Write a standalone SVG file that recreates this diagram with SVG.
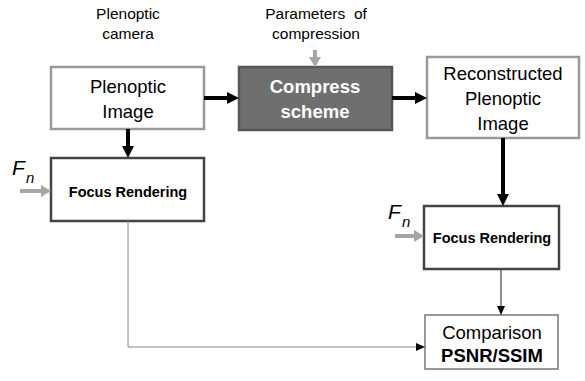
<svg xmlns="http://www.w3.org/2000/svg" width="585" height="381" viewBox="0 0 585 381">
<defs>
<style>
text{font-family:"Liberation Sans",Arial,sans-serif;text-anchor:middle;fill:#000}
.lbl{font-size:15.5px}
.big{font-size:18.5px}
.bold{font-weight:bold}
.fr{font-size:14.5px;font-weight:bold}
.fn{font-size:21px;font-style:italic;text-anchor:start}
.sub{font-size:15px;font-style:italic;text-anchor:start}
.thick{stroke:#000;stroke-width:4;fill:none}
.grey{stroke:#a6a6a6;stroke-width:4;fill:none}
.thin{stroke:#888;stroke-width:1;fill:none}
</style>
</defs>
<rect width="585" height="381" fill="#fff"/>
<text class="lbl" x="128" y="19">Plenoptic</text>
<text class="lbl" x="128" y="39">camera</text>
<text class="lbl" x="316" y="19" xml:space="preserve">Parameters  of</text>
<text class="lbl" x="316" y="39">compression</text>
<g id="plenoptic-image">
<rect x="51" y="67" width="153" height="62" fill="#fff" stroke="#999" stroke-width="2.5"/>
<text class="big" x="128" y="93">Plenoptic</text>
<text class="big" x="128" y="118">Image</text>
</g>
<g id="compress">
<rect x="239" y="67" width="153" height="63" fill="#6f6f6f" stroke="#555" stroke-width="2.5"/>
<text class="big bold" x="315" y="93" style="fill:#fff">Compress</text>
<text class="big bold" x="315" y="118" style="fill:#fff">scheme</text>
</g>
<g id="reconstructed">
<rect x="427" y="57" width="152" height="81" fill="#fff" stroke="#999" stroke-width="2.5"/>
<text class="big" x="503" y="80">Reconstructed</text>
<text class="big" x="503" y="105">Plenoptic</text>
<text class="big" x="503" y="130">Image</text>
</g>
<g id="focus-left">
<rect x="51" y="158" width="153" height="63" fill="#fff" stroke="#444" stroke-width="2.5"/>
<text class="fr" x="128" y="197">Focus Rendering</text>
</g>
<g id="focus-right">
<rect x="424" y="206" width="135" height="63" fill="#fff" stroke="#444" stroke-width="2.5"/>
<text class="fr" x="492" y="243">Focus Rendering</text>
</g>
<g id="comparison">
<rect x="425" y="315" width="133" height="54" fill="#fff" stroke="#777" stroke-width="1.5"/>
<text class="big" x="492" y="339">Comparison</text>
<text class="big bold" x="492" y="362">PSNR/SSIM</text>
</g>
<g id="fn-left">
<text class="fn" x="12" y="175">F</text>
<text class="sub" x="26" y="183">n</text>
</g>
<g id="fn-right">
<text class="fn" x="388" y="219">F</text>
<text class="sub" x="402" y="227">n</text>
</g>
<g id="connectors">
<line class="thick" x1="204" y1="98" x2="228" y2="98"/>
<polygon points="239,98 227,92 227,104" fill="#000"/>
<line class="thick" x1="392" y1="98" x2="416" y2="98"/>
<polygon points="427,98 415,92 415,104" fill="#000"/>
<line class="thick" x1="128" y1="129" x2="128" y2="147"/>
<polygon points="128,158 122,146 134,146" fill="#000"/>
<line class="thick" x1="503" y1="138" x2="503" y2="195"/>
<polygon points="503,206 497,194 509,194" fill="#000"/>
<line x1="501" y1="269" x2="501" y2="306" stroke="#444" stroke-width="1.2"/>
<polygon points="501,315 497,306 505,306" fill="#000"/>
<polyline class="thin" points="128,221 128,347 416,347"/>
<polygon points="425,347 416,343 416,351" fill="#000"/>
<line class="grey" x1="20" y1="191" x2="42" y2="191"/>
<polygon points="51,191 41,185 41,197" fill="#a6a6a6"/>
<line class="grey" x1="395" y1="236" x2="415" y2="236"/>
<polygon points="424,236 414,230 414,242" fill="#a6a6a6"/>
<line class="grey" x1="315" y1="50" x2="315" y2="58"/>
<polygon points="315,67 309,57 321,57" fill="#a6a6a6"/>
</g>
</svg>
